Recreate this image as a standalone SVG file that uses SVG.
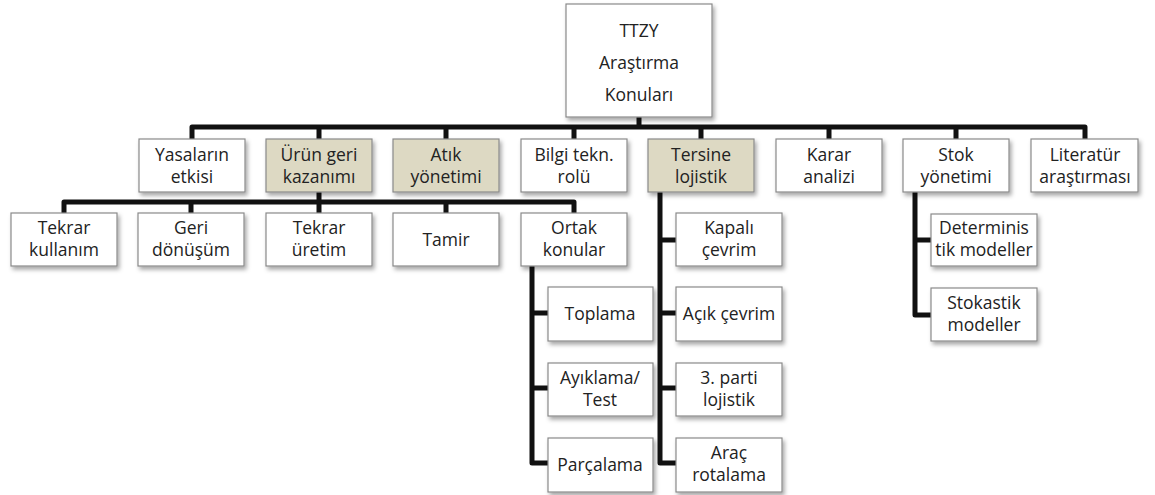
<svg xmlns="http://www.w3.org/2000/svg" width="1155" height="495" viewBox="0 0 1155 495">
<defs>
<filter id="sh" x="-10%" y="-10%" width="130%" height="140%">
<feDropShadow dx="2" dy="3" stdDeviation="2" flood-color="#000" flood-opacity="0.35"/>
</filter>
<style>
.b{fill:#ffffff;stroke:#8a8a8a;stroke-width:1.2;filter:url(#sh)}
.h{fill:#ddd9c3;stroke:#8a8a8a;stroke-width:1.2;filter:url(#sh)}
text{font-family:"Open Sans","Noto Sans",sans-serif;font-size:17.5px;fill:#222;text-anchor:middle}
.c{fill:none;stroke:#111;stroke-width:5;stroke-linejoin:round;stroke-linecap:butt}
</style>
</defs>
<rect width="1155" height="495" fill="#fff"/>
<g id="connectors">
<path class="c" d="M639,117 V127"/>
<path class="c" d="M192,139 V127 H1085 V139"/>
<path class="c" d="M319,127 V139 M446,127 V139 M574,127 V139 M701,127 V139 M829,127 V139 M956,127 V139"/>
<path class="c" d="M319,192 V213"/>
<path class="c" d="M64,213 V202 H574 V213"/>
<path class="c" d="M191,202 V213 M446,202 V213"/>
<path class="c" d="M532,266 V463 H548 M532,313 H548 M532,388 H548"/>
<path class="c" d="M660,192 V463 H676 M660,240 H676 M660,313 H676 M660,388 H676"/>
<path class="c" d="M915,192 V315 H931 M915,240 H931"/>
</g>
<g id="root"><rect class="b" x="566" y="4" width="146" height="113"/><text x="639" y="37">TTZY</text><text x="639" y="69">Araştırma</text><text x="639" y="101">Konuları</text></g>
<g id="yasalar"><rect class="b" x="139" y="139" width="106" height="53"/><text x="192" y="161">Yasaların</text><text x="192" y="183">etkisi</text></g>
<g id="urun"><rect class="h" x="266" y="139" width="106" height="53"/><text x="319" y="161">Ürün geri</text><text x="319" y="183">kazanımı</text></g>
<g id="atik"><rect class="h" x="393" y="139" width="106" height="53"/><text x="446" y="161">Atık</text><text x="446" y="183">yönetimi</text></g>
<g id="bilgi"><rect class="b" x="521" y="139" width="106" height="53"/><text x="574" y="161">Bilgi tekn.</text><text x="574" y="183">rolü</text></g>
<g id="tersine"><rect class="h" x="648" y="139" width="106" height="53"/><text x="701" y="161">Tersine</text><text x="701" y="183">lojistik</text></g>
<g id="karar"><rect class="b" x="776" y="139" width="106" height="53"/><text x="829" y="161">Karar</text><text x="829" y="183">analizi</text></g>
<g id="stok"><rect class="b" x="903" y="139" width="106" height="53"/><text x="956" y="161">Stok</text><text x="956" y="183">yönetimi</text></g>
<g id="literatur"><rect class="b" x="1031" y="139" width="107" height="53"/><text x="1085" y="161">Literatür</text><text x="1085" y="183">araştırması</text></g>
<g id="tekrar-kullanim"><rect class="b" x="11" y="213" width="106" height="53"/><text x="64" y="234">Tekrar</text><text x="64" y="256">kullanım</text></g>
<g id="geri-donusum"><rect class="b" x="138" y="213" width="106" height="53"/><text x="191" y="234">Geri</text><text x="191" y="256">dönüşüm</text></g>
<g id="tekrar-uretim"><rect class="b" x="266" y="213" width="106" height="53"/><text x="319" y="234">Tekrar</text><text x="319" y="256">üretim</text></g>
<g id="tamir"><rect class="b" x="393" y="213" width="106" height="53"/><text x="446" y="246">Tamir</text></g>
<g id="ortak"><rect class="b" x="521" y="213" width="106" height="53"/><text x="574" y="234">Ortak</text><text x="574" y="256">konular</text></g>
<g id="toplama"><rect class="b" x="548" y="287" width="105" height="54"/><text x="600" y="320">Toplama</text></g>
<g id="ayiklama"><rect class="b" x="548" y="363" width="105" height="53"/><text x="600" y="384">Ayıklama/</text><text x="600" y="406">Test</text></g>
<g id="parcalama"><rect class="b" x="548" y="438" width="105" height="54"/><text x="600" y="471">Parçalama</text></g>
<g id="kapali"><rect class="b" x="676" y="213" width="106" height="53"/><text x="729" y="234">Kapalı</text><text x="729" y="256">çevrim</text></g>
<g id="acik"><rect class="b" x="676" y="287" width="106" height="54"/><text x="729" y="320">Açık çevrim</text></g>
<g id="parti"><rect class="b" x="676" y="363" width="106" height="53"/><text x="729" y="384">3. parti</text><text x="729" y="406">lojistik</text></g>
<g id="arac"><rect class="b" x="676" y="438" width="106" height="54"/><text x="729" y="459">Araç</text><text x="729" y="481">rotalama</text></g>
<g id="deterministik"><rect class="b" x="931" y="214" width="106" height="52"/><text x="984" y="234">Determinis</text><text x="984" y="256">tik modeller</text></g>
<g id="stokastik"><rect class="b" x="931" y="288" width="106" height="53"/><text x="984" y="309">Stokastik</text><text x="984" y="331">modeller</text></g>
</svg>
